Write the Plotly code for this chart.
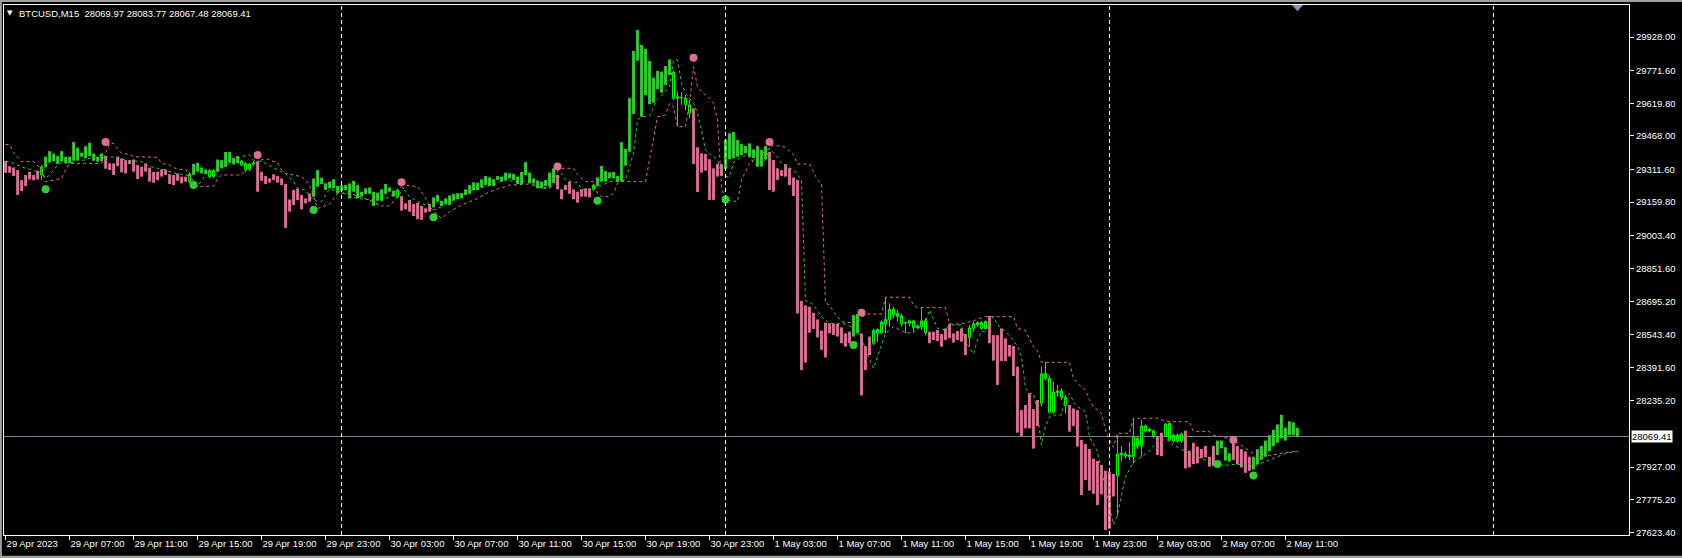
import plotly.graph_objects as go

# ---------------- data (BTCUSD M15, bar index 0 = 29 Apr 2023 03:00) ----------------
BAR_HI = [
29351,29327,29321,29309,29262,29286,29301,29286,29306,29324,
29371,29397,29386,29374,29397,29371,29371,29439,29413,29390,
29420,29436,29386,29371,29386,29374,29340,29340,29371,29363,
29355,29355,29358,29332,29324,29340,29320,29301,29301,29312,
29312,29290,29286,29293,29278,29278,29290,29337,29343,29321,
29312,29306,29306,29358,29355,29393,29393,29366,29374,29351,
29340,29337,29342,29348,29301,29281,29270,29289,29281,29270,
29244,29172,29216,29222,29193,29177,29200,29270,29309,29273,
29247,29255,29266,29235,29239,29239,29247,29258,29239,29208,
29224,29228,29208,29204,29219,29244,29228,29213,29216,29188,
29154,29170,29151,29157,29142,29131,29151,29182,29193,29166,
29177,29191,29198,29201,29201,29219,29239,29252,29250,29266,
29281,29275,29266,29281,29278,29297,29294,29291,29278,29300,
29346,29297,29270,29260,29255,29263,29297,29317,29286,29219,
29239,29255,29219,29208,29219,29224,29224,29239,29275,29328,
29304,29298,29300,29281,29439,29407,29644,29863,29961,29891,
29872,29816,29739,29770,29767,29793,29824,29764,29650,29647,
29643,29612,29596,29415,29387,29384,29359,29317,29337,29337,
29449,29480,29486,29449,29430,29421,29433,29405,29421,29402,
29421,29393,29356,29317,29309,29337,29318,29275,29263,28700,
28679,28673,28645,28614,28562,28599,28596,28593,28593,28577,
28549,28557,28634,28639,28549,28490,28534,28562,28567,28602,
28614,28661,28661,28642,28630,28599,28607,28607,28583,28607,
28608,28557,28557,28565,28546,28572,28593,28549,28560,28572,
28546,28575,28593,28599,28599,28604,28630,28541,28541,28572,
28526,28495,28490,28394,28192,28216,28270,28197,28239,28360,
28363,28340,28275,28281,28281,28250,28216,28200,28192,28053,
28034,28011,27966,27955,27937,27910,27905,27895,27988,27991,
27988,27983,28068,28061,28118,28118,28103,28095,28071,28087,
28126,28130,28076,28076,28081,28096,28003,28040,28022,28011,
28025,27975,28025,28050,28050,28019,27991,28050,28025,28010,
28000,27975,27975,28010,28025,28050,28075,28100,28125,28170,
28110,28140,28135,28110]
BAR_LO = [
29296,29296,29281,29193,29211,29234,29265,29262,29265,29286,
29321,29344,29351,29337,29348,29340,29340,29352,29355,29371,
29363,29374,29352,29348,29351,29315,29309,29286,29327,29298,
29293,29337,29301,29267,29278,29301,29255,29250,29262,29278,
29286,29244,29239,29259,29247,29255,29255,29286,29301,29293,
29290,29278,29278,29301,29317,29324,29343,29335,29340,29332,
29309,29312,29338,29208,29259,29244,29250,29262,29250,29239,
29040,29115,29146,29169,29126,29154,29162,29185,29231,29244,
29216,29224,29224,29201,29213,29216,29177,29208,29177,29185,
29198,29198,29142,29166,29166,29198,29208,29185,29185,29120,
29126,29115,29095,29080,29077,29111,29115,29135,29162,29142,
29151,29146,29166,29173,29177,29193,29198,29216,29216,29228,
29239,29235,29235,29263,29255,29263,29270,29263,29244,29244,
29286,29247,29247,29224,29224,29235,29232,29250,29219,29173,
29216,29198,29173,29157,29185,29185,29182,29219,29235,29255,
29255,29270,29270,29255,29255,29329,29394,29570,29818,29557,
29658,29616,29622,29686,29669,29705,29751,29643,29643,29645,
29612,29573,29337,29207,29297,29306,29170,29170,29278,29281,
29314,29359,29364,29371,29379,29387,29368,29364,29325,29325,
29359,29216,29208,29263,29281,29278,29239,29188,28642,28378,
28413,28552,28569,28530,28472,28437,28549,28541,28534,28503,
28487,28503,28534,28549,28260,28378,28448,28503,28549,28552,
28593,28614,28634,28627,28593,28597,28596,28576,28576,28580,
28552,28503,28518,28513,28487,28518,28526,28506,28518,28510,
28448,28529,28572,28588,28572,28572,28503,28422,28309,28420,
28420,28441,28351,28087,28071,28107,28107,28013,28118,28223,
28340,28182,28180,28273,28250,28213,28092,28118,28022,27797,
27867,27817,27802,27750,27800,27634,27640,27790,27885,27983,
27978,27975,27975,28022,28025,28095,28095,28071,27983,27978,
28071,28053,28048,28048,28048,27921,27926,27941,27944,27968,
27972,27929,27932,27983,28014,27957,27952,27960,27940,27925,
27900,27910,27915,27940,27960,27975,28000,28025,28040,28060,
28050,28075,28075,28070]
# g = up-trend bar, p = down-trend bar, n = plain candle (no trend colour)
STATE = ("pppppppppn" "ggggggggggggggg" "ppppppppppppppppppppp" "n" "gggg" "nn" "gggggg" "nnnn"
         "pppppppppppppp" "ggggggggggggggggggggg" "n" "pppppppp" "ggggggggggggggggggggggggggggggg"
         "ppppppppp" "n" "ggggggggggggggggggg" "nnnnn" "pppppppp" "ggggggggggg"
         "ppppppppppppppppppppp" "gg" "ppp" "nnnnnnnnnnnnnn" "pppppppppp" "nnnnn"
         "ppppppppppppp" "nnnnnnn" "pppppppppppp" "nnnnnnnnnn" "pp" "nnnnn" "pppppppp"
         "gggg" "ppppp" "gggggggggggg")
# wicks of the plain candles (open = BAR_LO, close = BAR_HI)
CN_IDX  = [9,46,51,52,59,60,61,62,98,147,167,168,169,170,171,
           217,218,219,220,221,222,223,224,225,226,227,228,229,230,
           241,242,243,244,245,259,260,261,262,263,264,265,
           278,279,280,281,282,283,284,285,286,287,290,291,292,293,294]
CN_HIGH = [29332,29300,29315,29312,29356,29345,29343,29350,29222,29245,29770,29674,29669,29658,29635,
           28570,28572,28610,28717,28689,28673,28658,28642,28604,28614,28611,28590,28670,28619,
           28588,28604,28605,28606,28610,28394,28417,28355,28324,28309,28293,28262,
           28076,28025,28000,28045,28154,28070,28146,28125,28110,28102,28132,28138,28082,28082,28088]
CN_LOW  = [29262,29245,29270,29272,29328,29300,29305,29330,29178,29212,29635,29511,29612,29588,29550,
           28495,28510,28545,28549,28580,28619,28604,28580,28549,28580,28557,28570,28565,28541,
           28487,28557,28580,28565,28565,28208,28332,28177,28177,28255,28239,28177,
           27700,27952,27965,27960,27944,28010,27975,28088,28088,28062,28065,28045,28040,28040,28040]

PINK_X = [0,1,2,4,7,8,9,10,12,14,15,16,24,25,26,27,28,29,31,32,38,39,41,43,45,48,52,53,54,59,60,62,65,68,69,70,
          74,75,76,78,81,83,86,92,94,96,98,100,103,104,105,106,108,109,111,114,118,121,126,131,134,136,138,139,
          142,143,145,147,148,149,151,152,153,154,160,161,162,163,165,166,167,168,170,171,172,173,174,176,177,
          178,179,180,183,184,186,187,191,192,195,197,198,201,202,203,204,205,206,207,208,209,213,215,219,220,
          226,227,228,235,236,239,242,245,252,253,255,257,258,259,266,267,268,270,271,272,274,275,276,277,278,
          281,282,288,289,291,296,297,301,302,306,308,312,316,320,323]
PINK_Y = [29428,29428,29390,29348,29348,29330,29309,29255,29263,29270,29309,29340,29340,29386,29433,29433,29410,
          29386,29383,29371,29368,29340,29332,29312,29312,29231,29234,29270,29286,29286,29309,29340,29363,29343,
          29309,29293,29278,29262,29239,29130,29150,29201,29201,29162,29142,29142,29185,29239,29232,29208,29177,
          29139,29100,29084,29115,29146,29177,29208,29239,29244,29224,29224,29301,29317,29317,29286,29255,29255,
          29201,29185,29185,29201,29247,29255,29255,29356,29464,29557,29565,29619,29604,29511,29511,29619,29790,
          29697,29674,29643,29619,29542,29232,29170,29162,29263,29340,29356,29410,29425,29415,29379,29337,29337,
          29301,29263,29247,28690,28681,28650,28627,28603,28596,28639,28639,28717,28717,28681,28669,28669,28593,
          28593,28608,28627,28627,28572,28562,28487,28470,28414,28414,28340,28316,28285,28240,28208,28177,28100,
          28053,28019,28084,28084,28154,28154,28146,28138,28138,28092,28092,28076,28060,28040,27990,27980,27995,
          28000]
GREEN_X = [0,1,3,5,7,8,9,10,11,12,13,14,17,18,20,23,25,28,30,34,35,38,40,43,45,47,48,49,50,52,54,57,59,61,62,
           64,65,68,70,72,73,75,76,78,79,80,81,84,86,88,91,93,94,96,99,100,101,103,104,106,107,108,110,111,113,
           114,117,119,123,124,128,131,133,136,138,139,140,142,143,144,146,147,149,151,153,155,156,157,158,159,
           161,162,163,165,166,167,168,169,170,172,173,174,175,176,177,178,179,180,181,182,184,186,187,188,190,
           191,193,194,197,199,200,201,202,204,206,210,212,214,215,216,217,218,219,220,221,222,225,227,230,231,
           233,235,236,239,240,242,243,244,245,247,248,251,253,254,255,256,257,258,259,260,261,262,264,265,266,
           267,268,270,271,272,273,277,278,279,280,282,284,286,288,290,292,295,297,300,302,305,308,312,316,320,
           323]
GREEN_Y = [29351,29348,29332,29317,29309,29297,29301,29270,29286,29309,29332,29343,29343,29355,29355,29379,29371,
           29368,29355,29348,29332,29317,29309,29290,29290,29262,29239,29255,29293,29309,29317,29355,29371,29379,
           29355,29348,29340,29309,29293,29255,29224,29216,29185,29162,29162,29193,29220,29208,29185,29177,29170,
           29146,29166,29185,29232,29208,29185,29162,29154,29139,29123,29131,29146,29162,29185,29201,29216,29224,
           29247,29263,29255,29255,29232,29224,29263,29294,29263,29252,29252,29220,29213,29232,29236,29255,29255,
           29263,29325,29387,29542,29557,29560,29600,29640,29674,29697,29821,29821,29712,29666,29620,29573,29495,
           29402,29387,29371,29356,29294,29278,29278,29345,29371,29379,29340,29325,29356,29410,29370,29340,29309,
           29263,28700,28696,28681,28627,28596,28593,28572,28534,28472,28425,28386,28440,28500,28549,28565,28580,
           28552,28552,28600,28658,28572,28565,28588,28588,28510,28453,28518,28557,28557,28627,28590,28540,28490,
           28441,28295,28270,28270,28177,28030,28115,28160,28169,28169,28250,28270,28231,28208,28185,28068,28030,
           27999,27660,27700,27800,27880,27950,27975,28000,28050,28060,28030,28000,27980,27960,27940,27935,27940,
           27930,27960,27990,28000]

PINK_DOT_X = [25, 63, 99, 138, 172, 191, 214, 307]
PINK_DOT_Y = [29439, 29379, 29252, 29325, 29832, 29439, 28645, 28053]
GREEN_DOT_X = [10, 47, 77, 107, 148, 180, 212, 303, 312]
GREEN_DOT_Y = [29220, 29239, 29123, 29089, 29166, 29172, 28495, 27941, 27888]

Y_TICKS = [29928.00, 29771.60, 29619.80, 29468.00, 29311.60, 29159.80, 29003.40, 28851.60,
           28695.20, 28543.40, 28391.60, 28235.20, 27927.00, 27775.20, 27623.40]
X_TICK_BARS = list(range(0, 321, 16))
X_TICK_LABELS = ["29 Apr 2023", "29 Apr 07:00", "29 Apr 11:00", "29 Apr 15:00", "29 Apr 19:00",
                 "29 Apr 23:00", "30 Apr 03:00", "30 Apr 07:00", "30 Apr 11:00", "30 Apr 15:00",
                 "30 Apr 19:00", "30 Apr 23:00", "1 May 03:00", "1 May 07:00", "1 May 11:00",
                 "1 May 15:00", "1 May 19:00", "1 May 23:00", "2 May 03:00", "2 May 07:00", "2 May 11:00"]
DAY_SEPARATORS = [84, 180, 276, 372]
LAST_PRICE = 28069.41
HEADER = "BTCUSD,M15  28069.97 28083.77 28067.48 28069.41"

# ---------------- styling ----------------
GREEN = "#32CD32"
PINK = "#DB7093"
LIME = "#00FF00"
FONT = "Liberation Sans, Arial, sans-serif"
FS = 9.5
Y0, Y1 = 27610.8, 30076.9

fig = go.Figure()

g_idx = [i for i, s in enumerate(STATE) if s == "g"]
p_idx = [i for i, s in enumerate(STATE) if s == "p"]
for idx, col in ((g_idx, GREEN), (p_idx, PINK)):
    fig.add_trace(go.Bar(
        x=idx, y=[BAR_HI[i] - BAR_LO[i] for i in idx], base=[BAR_LO[i] for i in idx],
        width=0.72, marker=dict(color=col, line=dict(width=0)), hoverinfo="skip", showlegend=False))

fig.add_trace(go.Candlestick(
    x=CN_IDX, open=[BAR_LO[i] for i in CN_IDX], close=[BAR_HI[i] for i in CN_IDX],
    high=CN_HIGH, low=CN_LOW, whiskerwidth=0,
    increasing=dict(line=dict(color=LIME, width=1), fillcolor="black"),
    decreasing=dict(line=dict(color=LIME, width=1), fillcolor=LIME),
    hoverinfo="skip", showlegend=False))

fig.add_trace(go.Scatter(x=PINK_X, y=PINK_Y, mode="lines",
                         line=dict(color=PINK, width=1, dash="3px,3px"), hoverinfo="skip", showlegend=False))
fig.add_trace(go.Scatter(x=GREEN_X, y=GREEN_Y, mode="lines",
                         line=dict(color=GREEN, width=1, dash="3px,3px"), hoverinfo="skip", showlegend=False))
fig.add_trace(go.Scatter(x=PINK_DOT_X, y=PINK_DOT_Y, mode="markers",
                         marker=dict(color=PINK, size=8, line=dict(width=0)), hoverinfo="skip", showlegend=False))
fig.add_trace(go.Scatter(x=GREEN_DOT_X, y=GREEN_DOT_Y, mode="markers",
                         marker=dict(color=GREEN, size=8, line=dict(width=0)), hoverinfo="skip", showlegend=False))

shapes = []
for d in DAY_SEPARATORS:
    shapes.append(dict(type="line", xref="x", yref="paper", x0=d, x1=d, y0=0, y1=1,
                       line=dict(color="white", width=1, dash="4px,3px"), layer="above"))
shapes.append(dict(type="line", xref="paper", yref="y", x0=0, x1=1, y0=LAST_PRICE, y1=LAST_PRICE,
                   line=dict(color="#778899", width=1), layer="below"))
# window border (grey)
shapes.append(dict(type="rect", xref="paper", yref="paper", x0=-0.0030, x1=-0.0013, y0=-0.05, y1=1.02,
                   fillcolor="#a0a0a0", line=dict(width=0)))
shapes.append(dict(type="rect", xref="paper", yref="paper", x0=-0.01, x1=1.04, y0=1.0057, y1=1.0100,
                   fillcolor="#a0a0a0", line=dict(width=0)))
shapes.append(dict(type="rect", xref="paper", yref="paper", x0=-0.01, x1=1.04, y0=-0.0440, y1=-0.0390,
                   fillcolor="#a0a0a0", line=dict(width=0)))
# chart-shift marker
shapes.append(dict(type="path", xref="x", yref="paper",
                   path="M 321.6,1 L 324.4,1 L 323.0,0.988 Z", fillcolor="#8497b0", line=dict(width=0)))

annotations = [
    dict(xref="paper", yref="paper", x=1.0, y=(LAST_PRICE - Y0) / (Y1 - Y0),
         xanchor="left", yanchor="middle", xshift=2, text="28069.41", showarrow=False,
         bgcolor="white", borderpad=0, font=dict(family=FONT, size=FS, color="black")),
    dict(xref="paper", yref="paper", x=0.0, y=1.0, xanchor="left", yanchor="top", xshift=1, yshift=-2,
         text="▼", showarrow=False, font=dict(family="DejaVu Sans", size=7, color="white")),
    dict(xref="paper", yref="paper", x=0.0, y=1.0, xanchor="left", yanchor="top", xshift=13, yshift=-1,
         text=HEADER, showarrow=False, font=dict(family=FONT, size=FS, color="white")),
]

fig.update_layout(
    width=1682, height=558,
    margin=dict(l=4, r=53, t=5, b=23, autoexpand=False),
    paper_bgcolor="black", plot_bgcolor="black",
    barmode="overlay", showlegend=False,
    shapes=shapes, annotations=annotations,
    font=dict(family=FONT, size=FS, color="white"),
    xaxis=dict(range=[-0.4, 405.9], showgrid=False, zeroline=False, rangeslider=dict(visible=False),
               tickmode="array", tickvals=X_TICK_BARS, ticktext=X_TICK_LABELS, tickangle=0,
               ticks="outside", ticklen=4, tickcolor="white", ticklabelposition="outside right",
               showline=True, linecolor="white", linewidth=1, mirror=True, automargin=False,
               tickfont=dict(family=FONT, size=FS, color="white")),
    yaxis=dict(range=[Y0, Y1], side="right", showgrid=False, zeroline=False,
               tickmode="array", tickvals=Y_TICKS, ticktext=[f"{v:.2f}" for v in Y_TICKS],
               ticks="outside", ticklen=4, tickcolor="white", automargin=False,
               showline=True, linecolor="white", linewidth=1, mirror=True,
               tickfont=dict(family=FONT, size=FS, color="white")),
)

fig.write_html("out.html",
               config={"displayModeBar": False},
               post_script="document.body.style.margin='0';document.body.style.background='black';"
                           "document.body.style.overflow='hidden';")
